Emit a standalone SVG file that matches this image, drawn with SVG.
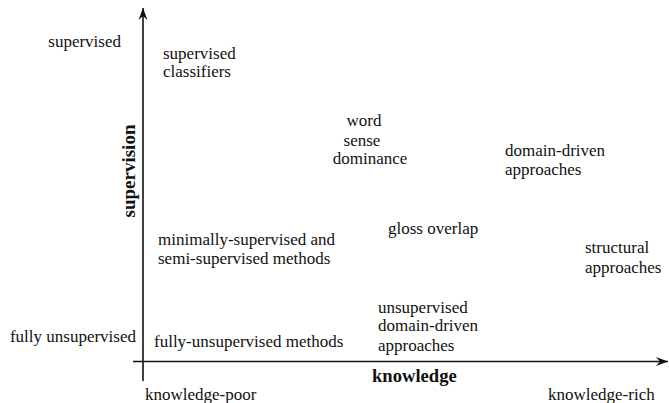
<svg xmlns="http://www.w3.org/2000/svg" width="669" height="403" viewBox="0 0 669 403">
<style>
text { font-family: "Liberation Serif", "Times New Roman", serif; font-size: 17px; fill: #111; }
.b { font-weight: bold; font-size: 18.6px; }
.axis { stroke: #111; stroke-width: 1.6; fill: none; }
</style>
<defs>
<marker id="arr" markerUnits="userSpaceOnUse" markerWidth="14" markerHeight="12" viewBox="-13 -6 14 12" refX="0" refY="0" orient="auto">
<path d="M0,0 L-12,-4.5 L-8,0 L-12,4.5 Z" fill="#111"/>
</marker>
</defs>
<rect width="669" height="403" fill="#fff"/>
<g id="connectors">
<line class="axis" x1="143" y1="381" x2="143" y2="8" marker-end="url(#arr)"/>
<line class="axis" x1="133" y1="361.5" x2="668" y2="361.5" marker-end="url(#arr)"/>
</g>
<g id="axis-supervision"><text class="b" transform="translate(135,171) rotate(-90)" text-anchor="middle" style="font-size:19px">supervision</text></g>
<g id="axis-knowledge"><text class="b" x="372" y="382">knowledge</text></g>
<g id="tick-supervised"><text x="121" y="47" text-anchor="end">supervised</text></g>
<g id="tick-fully-unsupervised"><text x="136" y="342" text-anchor="end">fully unsupervised</text></g>
<g id="tick-knowledge-poor"><text x="145" y="400">knowledge-poor</text></g>
<g id="tick-knowledge-rich"><text x="548" y="400">knowledge-rich</text></g>
<g id="supervised-classifiers"><text x="163" y="59">supervised</text><text x="163" y="77">classifiers</text></g>
<g id="word-sense-dominance"><text x="364" y="126" text-anchor="middle">word</text><text x="362" y="146" text-anchor="middle">sense</text><text x="370" y="164" text-anchor="middle">dominance</text></g>
<g id="domain-driven"><text x="505" y="156">domain-driven</text><text x="505" y="175">approaches</text></g>
<g id="gloss-overlap"><text x="388" y="234">gloss overlap</text></g>
<g id="minimally-supervised"><text x="158" y="245">minimally-supervised and</text><text x="158" y="264">semi-supervised methods</text></g>
<g id="structural"><text x="585" y="253">structural</text><text x="585" y="273">approaches</text></g>
<g id="unsupervised-domain-driven"><text x="378" y="313">unsupervised</text><text x="378" y="331">domain-driven</text><text x="378" y="351">approaches</text></g>
<g id="fully-unsupervised-methods"><text x="154" y="347">fully-unsupervised methods</text></g>
</svg>
